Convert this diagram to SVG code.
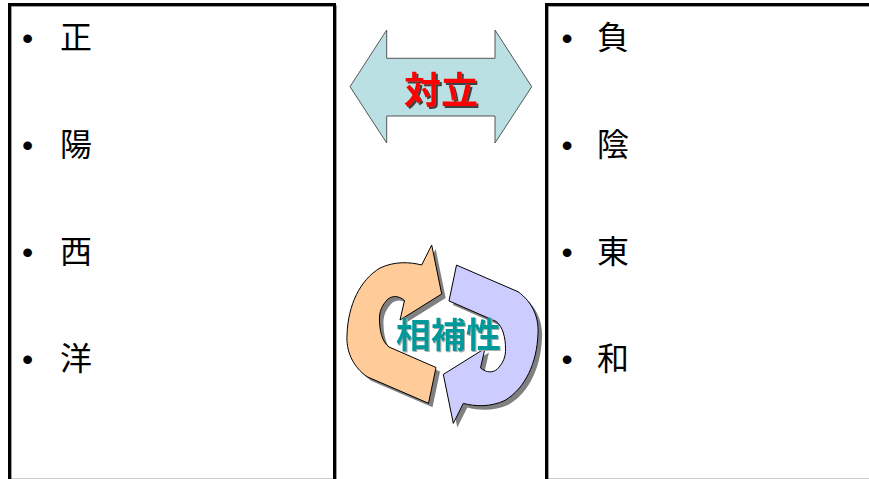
<svg xmlns="http://www.w3.org/2000/svg" width="869" height="479" viewBox="0 0 869 479">
<style>
.box{fill:none;stroke:#000;stroke-width:3}
.boxsh{fill:none;stroke:#808080;stroke-width:1.5}
.item{font-family:"Noto Sans CJK JP","Noto Sans CJK SC",sans-serif;font-size:32px;fill:#000}
.bul{font-family:"Liberation Sans",Arial,sans-serif;font-size:32px;fill:#000;text-anchor:middle}
.lbl{font-family:"Noto Sans CJK JP","Noto Sans CJK SC",sans-serif;font-weight:bold;text-anchor:middle}
.cyc{stroke:#000;stroke-width:1;stroke-linejoin:miter}
</style>
<defs>
<filter id="shDark" x="-10%" y="-10%" width="130%" height="130%">
<feDropShadow dx="2" dy="2" stdDeviation="0" flood-color="#404040" flood-opacity="1"/>
</filter>
<filter id="shLight" x="-10%" y="-10%" width="130%" height="130%">
<feDropShadow dx="1" dy="1" stdDeviation="0" flood-color="#B0B0B0" flood-opacity="1"/>
</filter>
<path id="cycArrow" d="M431.7 245 L441.7 294 L400 320 L404.5 300.5 C398 295 392 296 388 299 C382 305 379 312 379.5 320 C379.5 330 382 342 389 347 L436 367.5 L428.5 403.3 L367 376.7 C352 366 346 350 347 335 C348 305 360 280 380 268 C395 261 410 262 421.7 265 Z"/>
</defs>
<rect width="869" height="479" fill="#fff"/>
<g id="left-box">
<rect class="boxsh" x="11" y="6" width="325" height="476"/>
<rect class="box" x="9.5" y="4.5" width="325" height="475.8"/>
<text class="bul" x="27.5" y="49">•</text><text class="item" x="60" y="49">正</text>
<text class="bul" x="27.5" y="156">•</text><text class="item" x="60" y="156">陽</text>
<text class="bul" x="27.5" y="263">•</text><text class="item" x="60" y="263">西</text>
<text class="bul" x="27.5" y="370">•</text><text class="item" x="60" y="370">洋</text>
</g>
<g id="right-box">
<rect class="boxsh" x="548" y="6" width="330" height="476"/>
<rect class="box" x="546.5" y="4.5" width="330" height="475.8"/>
<text class="bul" x="567" y="49">•</text><text class="item" x="597" y="49">負</text>
<text class="bul" x="567" y="156">•</text><text class="item" x="597" y="156">陰</text>
<text class="bul" x="567" y="263">•</text><text class="item" x="597" y="263">東</text>
<text class="bul" x="567" y="370">•</text><text class="item" x="597" y="370">和</text>
</g>
<g id="opposition">
<polygon points="350,86.7 386.7,30 386.7,58.3 495,58.3 495,30 531.7,86.7 495,143 495,116 386.7,116 386.7,143" fill="#BBE0E3" stroke="#555" stroke-width="1"/>
<text class="lbl" x="441" y="104" font-size="37" fill="#FF0000" filter="url(#shDark)">対立</text>
</g>
<g id="complementarity">
<g fill="#808080" transform="translate(4,4)">
<use href="#cycArrow"/>
<use href="#cycArrow" transform="rotate(180 442.5 334.2)"/>
</g>
<use href="#cycArrow" class="cyc" fill="#FFCC99"/>
<use href="#cycArrow" class="cyc" fill="#CCCCFF" transform="rotate(180 442.5 334.2)"/>
<text class="lbl" x="448.5" y="347.5" font-size="35" fill="#009999" filter="url(#shLight)">相補性</text>
</g>
</svg>
